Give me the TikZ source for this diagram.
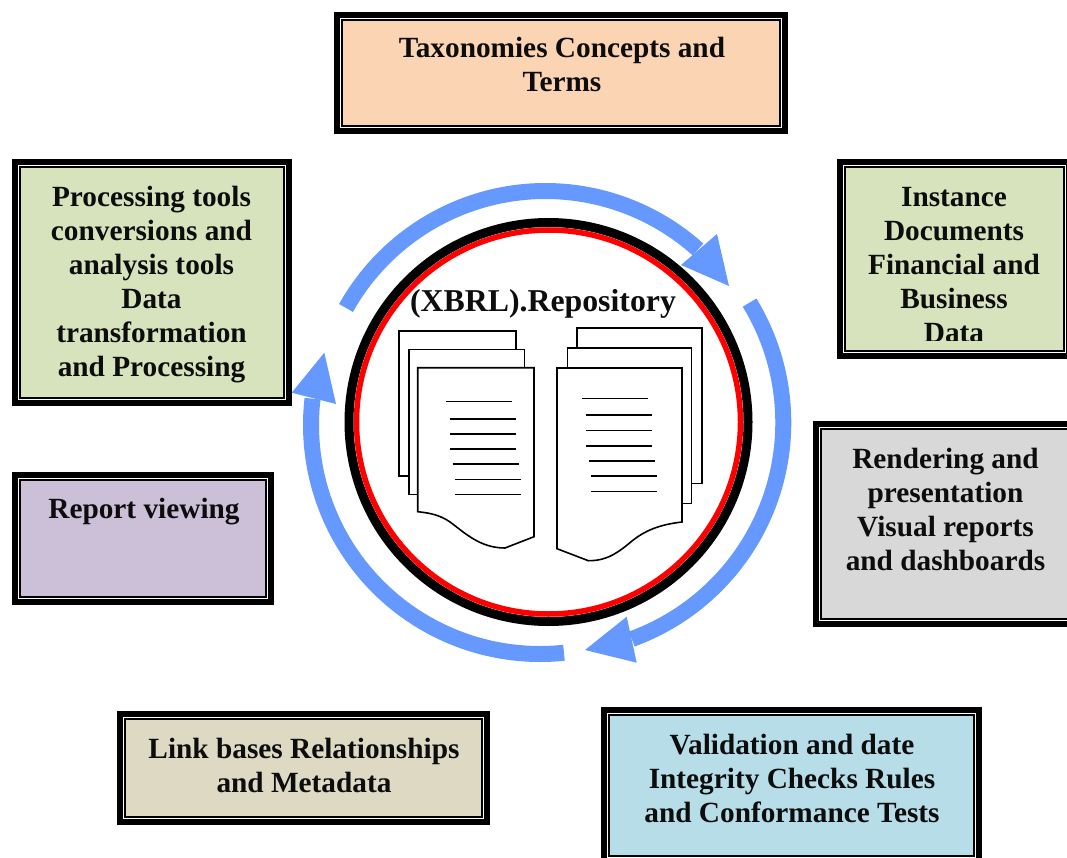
\documentclass[tikz,border=0pt]{standalone}
\usepackage{fontspec}
\setmainfont{Liberation Serif}
\definecolor{peach}{HTML}{FBD4B4}
\definecolor{sage}{HTML}{D6E3BC}
\definecolor{greybox}{HTML}{D8D8D8}
\definecolor{lav}{HTML}{CCC0D9}
\definecolor{tan2}{HTML}{DDD9C3}
\definecolor{aqua}{HTML}{B6DDE8}
\definecolor{arrowblue}{HTML}{6699FF}
\tikzset{
  boxlabel/.style={align=center,font=\fontsize{29.3}{34}\selectfont\bfseries,inner sep=0pt,text=black!95},
  sheet/.style={draw=black,fill=white,line width=1.6pt,line join=miter},
  textline/.style={draw=black,line width=1.6pt},
  band/.style={draw=arrowblue,line width=16pt},
  head/.style={fill=arrowblue}
}
% frame: x1,y1,x2,y2,colour
\newcommand{\frameit}[5]{%
  \fill[black] (#1,#2) rectangle (#3,#4);
  \fill[white] (#1+6,#2+6) rectangle (#3-6,#4-6);
  \path[fill=#5,draw=black,line width=1.4pt] (#1+8,#2+8) rectangle (#3-8,#4-8);
}
\begin{document}
\begin{tikzpicture}[x=1pt,y=-1pt]
\useasboundingbox (0,0) rectangle (1067,858);
\clip (0,0) rectangle (1067,858);

% boxes
\frameit{334}{12}{788}{134}{peach}
\node[boxlabel] (taxonomies) at (562,64.5) {Taxonomies Concepts and\\Terms};
\frameit{12}{159}{292}{406}{sage}
\node[boxlabel] (processing) at (151.5,284.5) {Processing tools\\conversions and\\analysis tools\\Data\\transformation\\and Processing};
\frameit{837}{159}{1072}{359}{sage}
\begin{scope}
\clip (837,159) rectangle (1067,340);
\node[boxlabel,anchor=north] (instance) at (954,187) {Instance\\Documents\\Financial and\\Business\\Data};
\end{scope}
\frameit{813}{421}{1090}{627}{greybox}
\node[boxlabel] (rendering) at (945.5,509) {Rendering and\\presentation\\Visual reports\\and dashboards};
\frameit{12}{472}{274}{605}{lav}
\node[boxlabel] (report) at (144,511.5) {Report viewing};
\frameit{117}{711}{490}{825}{tan2}
\node[boxlabel] (link) at (304,765) {Link bases Relationships\\and Metadata};
\frameit{601}{707}{982}{864}{aqua}
\node[boxlabel] (validation) at (792,778) {Validation and date\\Integrity Checks Rules\\and Conformance Tests};

% repository circle
\coordinate (hub) at (548.5,422);
\fill[black,even odd rule] (hub) circle[radius=204] (hub) circle[radius=195];
\draw[red,line width=5.5pt] (hub) circle[radius=192];

% circular arrows
\coordinate (c1) at (545.4,419.4);
\coordinate (c2) at (553,422.6);
\coordinate (c3) at (540,425);
\draw[band] (c1) ++(-150.8:228.4) arc[start angle=-150.8,end angle=-48.07,radius=228.4];
\fill[head] (717,234) -- (729,286) -- (681,265) -- cycle;
\draw[band] (c2) ++(-31.4:230.3) arc[start angle=-31.4,end angle=70,radius=230.3];
\fill[head] (626.7,616.7) -- (585,650) -- (636.7,662.7) -- cycle;
\draw[band] (c3) ++(84:229) arc[start angle=84,end angle=186.6,radius=229];
\fill[head] (291.7,392.7) -- (324.3,352.7) -- (336,404) -- cycle;

% title
\node[boxlabel,font=\fontsize{31.8}{34}\selectfont\bfseries,anchor=base] (title) at (543,312) {(XBRL).Repository};

% left documents
\path[sheet] (409,475.7) -- (399,475.7) -- (399,330.7) -- (515.7,330.7) -- (515.7,368);
\path[sheet] (417.7,494.3) -- (409,494.3) -- (409,349.3) -- (524.3,349.3) -- (524.3,368);
\path[sheet] (417.7,367.7) -- (534,367.7) -- (534,536.7) -- (505,548)
  .. controls (480,548) and (465,533) .. (450,522)
  .. controls (440,515) and (430,513) .. (417.7,511.7) -- cycle;
\foreach \ly/\la/\lb in {401.3/446.3/512,418.7/450.3/516.3,433.7/450.3/516.3,449/450.3/516.3,464/452.7/518.7,479.3/455.3/521.3,494.3/455.3/521.3}
  \draw[textline] (\la,\ly) -- (\lb,\ly);

% right documents
\path[sheet] (692.3,483.3) -- (702,483.3) -- (702,328) -- (577,328) -- (577,348);
\path[sheet] (682.7,503.3) -- (691.3,503.3) -- (691.3,348) -- (567.3,348) -- (567.3,368);
\path[sheet] (682,368) -- (557,368) -- (557,548.7) -- (588.3,560.7)
  .. controls (608,561) and (620,551) .. (632,541)
  .. controls (648,528) and (665,524) .. (682,522) -- cycle;
\foreach \ly/\la/\lb in {398.3/582/648,415/586/652.3,430.3/586/652.3,445.7/586/652.3,460.7/588.7/654.7,475.7/591.3/657,491.3/591.3/657}
  \draw[textline] (\la,\ly) -- (\lb,\ly);
\end{tikzpicture}
\end{document}
